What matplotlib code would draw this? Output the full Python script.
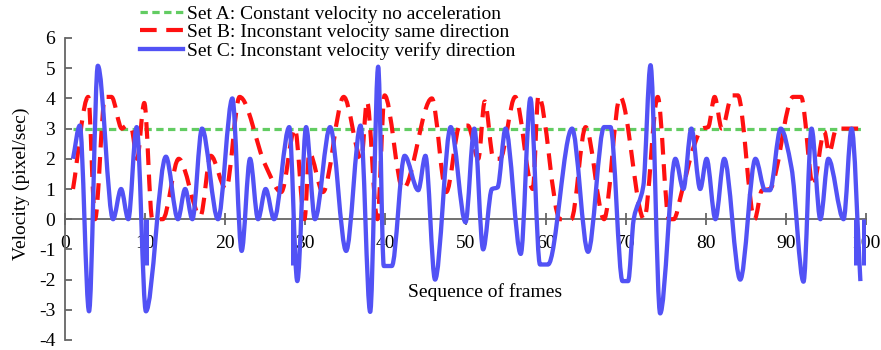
import numpy as np
import matplotlib
matplotlib.use("Agg")
import matplotlib.pyplot as plt
from matplotlib.path import Path
from matplotlib.patches import PathPatch
from matplotlib.lines import Line2D

plt.rcParams['font.family'] = ['Liberation Serif', 'DejaVu Serif']
plt.rcParams['axes.unicode_minus'] = False

# ---------------- data ----------------
set_a_x = [1.0, 99.5]
set_a_y = [3.0, 3.0]

set_b_x = [1.0, 2.9, 3.75, 5.0, 5.8, 7.1, 7.7, 8.3, 9.0, 9.9, 10.9, 12.2, 14.2,
           16.9, 18.2, 20.1, 21.8, 25.0, 27.0, 28.7, 29.9, 30.5, 32.2, 34.8,
           37.0, 37.7, 39.0, 39.9, 42.2, 45.8, 47.6, 49.3, 50.3, 51.6, 52.4,
           53.5, 54.3, 56.2, 58.4, 59.1, 61.8, 63.2, 65.0, 67.3, 69.3, 72.3,
           74.0, 75.4, 76.0, 77.0, 78.5, 79.5, 80.3, 81.1, 82.0, 83.3, 84.0,
           86.1, 87.0, 88.0, 90.9, 91.9, 93.4, 94.8, 95.4, 96.3, 99.5]
set_b_y = [1.0, 4.05, 0.0, 4.05, 4.05, 3.0, 3.1, 3.0, 2.0, 3.85, 0.0, 0.0, 2.0,
           0.1, 2.1, 1.0, 4.05, 1.8, 0.9, 3.0, 0.0, 2.2, 0.9, 4.05,
           2.0, 3.9, 0.0, 4.1, 1.0, 4.0, 0.9, 3.1, 3.1, 2.0, 3.9,
           2.0, 2.0, 4.05, 1.0, 4.1, 0.0, 0.0, 3.05, 0.0, 4.05, 0.0,
           4.05, 0.0, 0.0, 0.9, 2.4, 3.0, 3.05, 4.05, 3.0, 4.1, 4.1,
           0.0, 0.95, 1.0, 4.05, 4.05, 1.1, 2.9, 2.2, 3.0, 3.0]

set_c_x = [1.0, 1.85, 3.0, 4.1, 6.0, 7.0, 7.9, 8.95, 10.1, 12.6, 14.1, 15.0,
           15.9, 17.1, 19.1, 20.9, 22.05, 23.1, 24.1, 25.05, 26.1, 28.0, 29.0,
           30.1, 31.2, 33.1, 35.1, 36.9, 38.1, 39.1, 39.8, 40.8, 42.4, 44.1,
           45.0, 46.2, 48.15, 50.0, 51.1, 52.2, 53.3, 54.0, 55.0, 56.9, 58.1,
           59.3, 60.3, 63.3, 65.3, 67.3, 68.1, 69.6, 70.3, 71.0, 72.2, 73.1,
           74.3, 76.2, 77.2, 78.2, 79.3, 80.1, 81.2, 82.3, 84.3, 86.2, 87.4,
           88.0, 89.35, 90.7, 92.2, 93.2, 94.3, 95.3, 97.2, 98.2, 99.3]
set_c_y = [2.0, 3.1, -3.05, 5.08, 0.0, 1.0, 0.0, 3.05, -3.05, 2.07, 0.0, 1.0,
           0.0, 3.0, 0.0, 4.0, -1.05, 2.0, 0.0, 1.0, 0.0, 3.05, -2.05,
           3.05, 0.0, 3.05, -1.05, 3.1, -3.07, 5.05, -1.55, -1.55, 2.1, 0.96,
           2.1, -2.0, 3.05, -0.1, 3.0, -1.0, 1.0, 1.05, 3.0, -1.15, 4.0,
           -1.5, -1.5, 3.0, -1.08, 3.05, 3.05, -2.05, -2.05, 0.0, 1.1, 5.1,
           -3.12, 2.0, 1.0, 3.0, 1.0, 2.0, 0.0, 2.0, -2.0, 2.0, 0.96,
           0.96, 3.0, 1.7, -2.07, 3.0, 0.0, 2.0, 0.0, 3.0, -2.05]
# short vertical strokes of set C below the axis
set_c_bar_x = [10.1, 28.5, 98.8, 99.8]
set_c_bar_top = 0.0
set_c_bar_bottom = -1.5

labels = ["Set A: Constant velocity no acceleration",
          "Set B: Inconstant velocity same direction",
          "Set C: Inconstant velocity verify direction"]
x_ticks = list(range(0, 101, 10))
y_ticks = list(range(-4, 7))

col_a = '#62cc62'
col_b = '#ff1010'
col_c = '#5252f5'


def smooth_path(xs, ys):
    """Monotone Hermite curve through the points, as cubic Bezier path."""
    x = np.asarray(xs, float)
    y = np.asarray(ys, float)
    h = np.diff(x)
    d = np.diff(y) / h
    m = np.zeros_like(x)
    m[0] = d[0]
    m[-1] = d[-1]
    for i in range(1, len(x) - 1):
        if d[i - 1] * d[i] <= 0:
            m[i] = 0.0
        else:
            w1 = 2 * h[i] + h[i - 1]
            w2 = h[i] + 2 * h[i - 1]
            m[i] = (w1 + w2) / (w1 / d[i - 1] + w2 / d[i])
    verts = [(x[0], y[0])]
    codes = [Path.MOVETO]
    for i in range(len(x) - 1):
        verts += [(x[i] + h[i] / 3, y[i] + m[i] * h[i] / 3),
                  (x[i + 1] - h[i] / 3, y[i + 1] - m[i + 1] * h[i] / 3),
                  (x[i + 1], y[i + 1])]
        codes += [Path.CURVE4] * 3
    return Path(verts, codes)


fig = plt.figure(figsize=(8.81, 3.5), dpi=100)
ax = fig.add_axes([65 / 881, 10 / 350, 801 / 881, 302 / 350])
ax.set_xlim(0, 100)
ax.set_ylim(-4, 6)

lw_a, lw_b, lw_c = 2.3, 3.0, 3.1
ls_a = (0, (2.3, 1.4))
ls_b = (0, (4.0, 2.3))

ax.plot(set_a_x, set_a_y, color=col_a, lw=lw_a, linestyle=ls_a,
        dash_capstyle='butt', zorder=2)
ax.add_patch(PathPatch(smooth_path(set_b_x, set_b_y), fill=False,
                       edgecolor=col_b, lw=lw_b, linestyle=ls_b,
                       capstyle='butt', joinstyle='round', zorder=3))
ax.add_patch(PathPatch(smooth_path(set_c_x, set_c_y), fill=False,
                       edgecolor=col_c, lw=lw_c, linestyle='-',
                       capstyle='butt', joinstyle='round', zorder=4))
ax.vlines(set_c_bar_x, set_c_bar_bottom, set_c_bar_top, colors=col_c,
          lw=lw_c + 0.5, zorder=4)

for s in ['top', 'right']:
    ax.spines[s].set_visible(False)
ax.spines['bottom'].set_position(('data', 0))
for s in ['left', 'bottom']:
    ax.spines[s].set_color('#666666')
    ax.spines[s].set_linewidth(1.3)

ax.set_xticks(x_ticks)
ax.set_yticks(y_ticks)
ax.set_xticklabels([str(t) for t in x_ticks])
ax.set_yticklabels([str(t) for t in y_ticks])
ax.tick_params(axis='x', direction='inout', length=8.5, width=1.3,
               color='#666666', pad=7, labelsize=14, labelcolor='black')
ax.tick_params(axis='y', direction='in', length=5, width=1.3,
               color='#666666', pad=7, labelsize=14, labelcolor='black')

ax.text(52.4, -2.4, "Sequence of frames", ha='center', va='center',
        fontsize=14)
ax.text(-5.4, 1.18, "Velocity (pixel/sec)", ha='center', va='center',
        rotation=90, fontsize=14)

handles = [Line2D([], [], color=col_a, lw=lw_a, linestyle=ls_a),
           Line2D([], [], color=col_b, lw=lw_b, linestyle=ls_b),
           Line2D([], [], color=col_c, lw=lw_c)]
fig.legend(handles, labels, loc='upper left',
           bbox_to_anchor=(140 / 881, 1 - 5 / 350), frameon=False,
           fontsize=14, handlelength=2.2, handletextpad=0.2,
           labelspacing=0.05, borderpad=0, borderaxespad=0)

fig.savefig("out.png", dpi=100)
